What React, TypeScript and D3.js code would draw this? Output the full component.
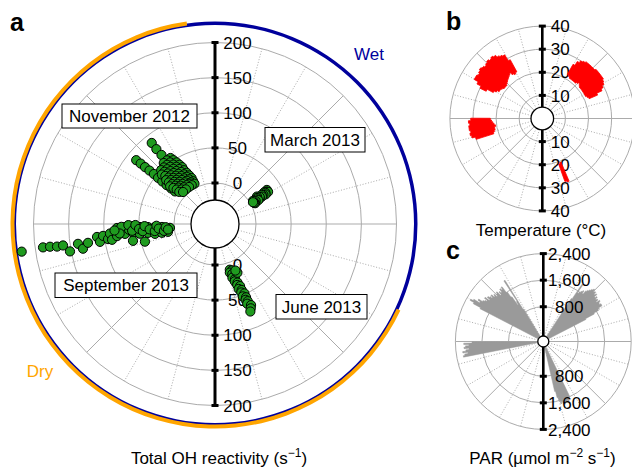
import React from 'react';
import * as d3 from 'd3';

type P2 = [number, number];
type P3 = [number, number, number];

const FONT = "'Liberation Sans', Arial, Helvetica, sans-serif";

// ---------- tick values ----------
const ohTicks = [0, 50, 100, 150, 200];
const tempTicks = [10, 20, 30, 40];
const parTicks = [800, 1600, 2400];
const parTickLabels = ['800', '1,600', '2,400'];

// ---------- panel a: total OH reactivity [day of year, s^-1] ----------
const ohNov: P2[] = [
  [326.5, 88], [326.4, 77], [326.7, 66],
  [313.3, 86], [313.4, 78], [313.4, 70], [313.5, 62], [313.6, 54], [313.3, 46], [313.2, 38], [313.1, 30], [313.3, 22], [313.5, 15],
  [330.5, 55], [327.5, 55], [324.4, 55],
  [331.5, 50], [328.5, 50], [325.5, 50], [322.4, 50], [319.4, 50],
  [332.6, 45], [329.5, 45], [326.5, 45], [323.4, 45], [320.4, 45], [317.3, 45],
  [333.6, 40], [330.5, 40], [327.5, 40], [324.4, 40], [321.4, 40], [318.4, 40],
  [334.6, 35], [331.5, 35], [328.5, 35], [325.5, 35], [322.4, 35], [319.4, 35], [316.3, 35],
  [334.6, 30], [331.5, 30], [328.5, 30], [325.5, 30], [322.4, 30], [319.4, 30], [316.3, 30],
  [335.6, 25], [332.6, 25], [329.5, 25], [326.5, 25], [323.4, 25], [320.4, 25], [317.3, 25], [314.3, 25],
  [336.6, 20], [333.6, 20], [330.5, 20], [327.5, 20], [324.4, 20], [321.4, 20], [318.4, 20], [315.3, 20],
  [337.6, 15], [334.6, 15], [331.5, 15], [328.5, 15], [325.5, 15], [322.4, 15], [319.4, 15], [316.3, 15],
  [337.6, 10], [334.6, 10], [331.5, 10], [328.5, 10], [324.4, 10], [320.4, 10], [316.3, 10],
  [337.6, 6], [333.6, 6], [329.5, 6], [324.4, 6], [319.4, 6],
];
const ohMar: P2[] = [
  [57.5, 30], [58.5, 28], [59.6, 30], [58, 25], [59, 26], [60.5, 25], [59.8, 22], [58.8, 20], [60.5, 19],
  [61, 15], [59.6, 16], [57.6, 13], [59, 12], [60.5, 11], [62, 12], [61.5, 8], [63.5, 6], [62.5, 5], [59.5, 5], [61, 4],
];
const ohSep: P2[] = [
  [265.5, 219.6], [265.9, 188.7], [265.8, 178.7], [265.5, 168.8], [265.6, 160.1], [262.9, 151.7], [265.4, 138.7],
  [263, 132.8], [265.2, 124.4], [267.4, 110.6], [264.8, 107.3], [267.6, 101.9], [265.6, 95.4], [268.5, 91.8], [264.9, 89.9],
  [271.4, 81.2], [266.6, 82.1], [269.6, 75.8], [271.8, 69.8], [267.4, 70.5], [269.9, 64.3], [272.3, 58.4], [267.4, 59],
  [262, 60.8], [269.5, 52.9], [271.4, 48.5], [266.3, 49.4], [259.4, 44.5], [269.1, 43.1], [271.1, 37.1], [266.1, 37.8],
  [268.5, 31.7], [270.8, 27.2], [264.3, 28.2], [267.7, 20.4], [270.5, 17.2], [264.2, 18.2], [268.8, 6], [264.2, 9.5],
  [272, 75], [268, 78], [270, 85], [273, 65], [269, 60], [273, 55], [270, 50], [268, 45], [272, 42], [269, 35],
  [267, 28], [272, 25], [269, 22], [266, 15], [270, 12], [267, 9],
];
const ohJun: P2[] = [
  [164.3, 10], [162.2, 12], [165.3, 14], [163.2, 17], [161.2, 20], [164.3, 22], [162.2, 25], [163.2, 28], [161.2, 31],
  [162.2, 34], [160.2, 37], [162.2, 40], [160.2, 43], [161.2, 46], [159.2, 49], [161.2, 52], [159.2, 55], [160.2, 58],
  [159.2, 61], [160.2, 64], [158.2, 68], [159.2, 72], [160.2, 76], [157.5, 18], [158.5, 14],
];

// ---------- panel b: temperature [day, min degC, max degC] ----------
const tempNov: P3[] = [
  [301, 27, 30], [303, 24, 32], [305, 23, 34], [307, 22, 34], [309, 22, 33.5], [311, 21.5, 34], [313, 21, 34.5],
  [315, 21, 34], [317, 21, 33.5], [319, 21.5, 34], [321, 22, 34.5], [323, 22.5, 34], [325, 23, 34.5], [327, 23.5, 34],
  [329, 24, 33], [331, 23, 32.5], [333, 22.5, 32], [335, 23, 29],
];
const tempMar: P3[] = [
  [31, 22, 27], [33, 21.5, 29], [35, 21, 30], [37, 21, 30.5], [39, 21, 31], [41, 21, 31], [43, 21, 31], [45, 21.5, 31],
  [47, 22, 31], [49, 21.5, 31.5], [51, 21, 31.5], [53, 21, 31.5], [55, 21, 31.5], [57, 21, 31.5], [59, 21, 31],
  [61, 21, 30.5], [63, 21, 29.5], [65, 21.5, 28.5], [67, 22, 26],
];
const tempSep: P3[] = [
  [257, 22, 30], [259, 21.5, 31.5], [261, 21, 32], [263, 21, 31.5], [265, 20.5, 32], [267, 21, 32], [269, 21.5, 31.5],
  [271, 22, 32], [273, 22.5, 31],
];
const tempJun: P3[] = [[160, 20.5, 29.5], [161.5, 21, 29]];

// ---------- panel c: PAR [day, umol m-2 s-1] ----------
const parNov: P2[] = [
  [302, 1900], [303, 2150], [304, 2280], [305, 2200], [306, 2000], [307, 2080], [308, 1950], [309, 1900], [310, 1850],
  [311, 1950], [312, 1800], [313, 1900], [314, 1850], [315, 1780], [316, 1850], [317, 1750], [318, 1800], [319, 1700],
  [320, 1760], [321, 1800], [322, 1650], [323, 1750], [324, 1700], [325, 1800], [326, 1750], [327, 1820], [328, 1600],
  [329, 1400], [330, 1100], [331, 1200], [332, 1930], [333, 900],
];
const parMar: P2[] = [
  [34, 1300], [35, 1837], [36, 1550], [37, 1600], [38, 1650], [39, 1700], [40, 1620], [41, 1750], [42, 1800],
  [43, 1850], [44, 1900], [45, 1950], [46, 1880], [47, 1920], [48, 1850], [49, 1900], [50, 1800], [51, 1850],
  [52, 1780], [53, 1820], [54, 1750], [55, 1850], [56, 1800], [57, 1780], [58, 1830], [59, 1820], [60, 1700],
  [61, 1660], [62, 1500], [63, 1200],
];
const parSep: P2[] = [
  [263, 2200], [264, 2150], [265, 2050], [266, 2200], [267, 2100], [268, 2000], [269, 2150], [270, 2100],
  [271, 2000], [272, 2150], [273, 1900],
];
const parJun: P2[] = [
  [157, 1600], [158, 1650], [159, 1700], [160, 1680], [161, 1720], [162, 1700], [163, 1750], [164, 1700],
  [165, 1650], [166, 1700], [167, 1600], [168, 1500], [169, 1300],
];

// season arcs (day of year)
const wetSeason: P2[] = [[0, 365]];
const drySeason: P2[] = [[116.6, 356.9]];

// ---------- scales ----------
const angle = d3.scaleLinear().domain([0, 365]).range([0, 2 * Math.PI]);

const A = { cx: 215, cy: 224, inner: 24 };
const rA = d3.scaleLinear().domain([0, 200]).range([41, 181.5]);
const B = { cx: 542.3, cy: 118.5, inner: 11.3 };
const rB = d3.scaleLinear().domain([0, 40]).range([0, 92.4]);
const C = { cx: 543.3, cy: 341.5, inner: 5.5 };
const rC = d3.scaleLinear().domain([0, 2400]).range([8.2, 87.9]);

const GRID = '#ababab';

function pol(cx: number, cy: number, r: number, a: number): P2 {
  return [cx + r * Math.sin(a), cy - r * Math.cos(a)];
}

// radial outline helpers (points are [angle rad, radius px])
const radialLine = d3.lineRadial<P2>().angle((d) => d[0]).radius((d) => d[1]);

function fanPath(set: P2[]): string {
  const pts: P2[] = [[angle(set[0][0] - 0.5), 0]];
  set.forEach((d) => {
    pts.push([angle(d[0] - 0.5), rC(d[1])]);
    pts.push([angle(d[0] + 0.5), rC(d[1])]);
  });
  pts.push([angle(set[set.length - 1][0] + 0.5), 0]);
  return (radialLine(pts) as string) + 'Z';
}

function blobPath(set: P3[]): string {
  const outer: P2[] = [];
  const inner: P2[] = [];
  set.forEach((d) => {
    outer.push([angle(d[0] - 1), rB(d[2])]);
    outer.push([angle(d[0] + 1), rB(d[2])]);
    inner.push([angle(d[0] - 1), rB(d[1])]);
    inner.push([angle(d[0] + 1), rB(d[1])]);
  });
  return (radialLine(outer.concat(inner.reverse())) as string) + 'Z';
}

function Grid({ cx, cy, r0, r1, rings }: { cx: number; cy: number; r0: number; r1: number; rings: number[] }) {
  const spokes = d3.range(0, 360, 15);
  return (
    <g>
      {spokes.map((deg) => {
        const a = (deg * Math.PI) / 180;
        const [x0, y0] = pol(cx, cy, r0, a);
        const [x1, y1] = pol(cx, cy, r1, a);
        const solid = deg % 45 === 0;
        return (
          <line key={deg} x1={x0} y1={y0} x2={x1} y2={y1} stroke={solid ? GRID : '#a0a0a0'}
            strokeWidth={solid ? 1 : 0.9} strokeDasharray={solid ? undefined : '1 1.8'} />
        );
      })}
      {rings.map((r, i) => (
        <circle key={i} cx={cx} cy={cy} r={r} fill="none" stroke={GRID} strokeWidth={1} />
      ))}
    </g>
  );
}

function Axis({ cx, cy, r0, r1, ticks, labels, scale, labelDx, lw }: any) {
  return (
    <g>
      <line x1={cx} x2={cx} y1={cy - r1} y2={cy - r0} stroke="#000" strokeWidth={lw} />
      <line x1={cx} x2={cx} y1={cy + r0} y2={cy + r1} stroke="#000" strokeWidth={lw} />
      {ticks.map((t: number, i: number) => (
        <g key={i}>
          <rect x={cx - 3.5} y={cy - scale(t) - 1.5} width={7} height={3} fill="#000" />
          <rect x={cx - 3.5} y={cy + scale(t) - 1.5} width={7} height={3} fill="#000" />
          <text x={cx + labelDx} y={cy - scale(t)} dy="0.36em" textAnchor="middle" fontSize={17} fontFamily={FONT}>{labels[i]}</text>
          <text x={cx + labelDx} y={cy + scale(t)} dy="0.36em" textAnchor="middle" fontSize={17} fontFamily={FONT}>{labels[i]}</text>
        </g>
      ))}
    </g>
  );
}

function LabelBox({ x, y, w, h, text }: { x: number; y: number; w: number; h: number; text: string }) {
  return (
    <g>
      <rect x={x} y={y} width={w} height={h} fill="#fff" stroke="#000" strokeWidth={1} />
      <text x={x + w / 2} y={y + h / 2} dy="0.36em" textAnchor="middle" fontSize={17} fontFamily={FONT}>{text}</text>
    </g>
  );
}

export default function App() {
  const ringArc = d3.arc<any>();
  const ohAll = [ohNov, ohMar, ohSep, ohJun];
  const tempAll = [tempNov, tempMar, tempSep, tempJun];
  const parAll = [parNov, parMar, parSep, parJun];

  return (
    <svg width={632} height={467} style={{ position: 'absolute', left: 0, top: 0, background: '#fff' }} fontFamily={FONT}>
      {/* ---------------- panel a ---------------- */}
      <Grid cx={A.cx} cy={A.cy} r0={A.inner} r1={rA(200)} rings={ohTicks.map((t) => rA(t))} />
      <g transform={`translate(${A.cx},${A.cy})`}>
        {wetSeason.map((s, i) => (
          <path key={'w' + i} fill="#00009c"
            d={ringArc({ innerRadius: 199, outerRadius: 202.5, startAngle: angle(s[0]), endAngle: angle(s[1]) }) as string} />
        ))}
        {drySeason.map((s, i) => (
          <path key={'d' + i} fill="#ffa500"
            d={ringArc({ innerRadius: 200.5, outerRadius: 204.5, startAngle: angle(s[0]), endAngle: angle(s[1]) }) as string} />
        ))}
      </g>
      <LabelBox x={62} y={104} w={135} h={24} text="November 2012" />
      <LabelBox x={265} y={127.5} w={100} h={24.5} text="March 2013" />
      <LabelBox x={55} y={273} w={142} h={24.5} text="September 2013" />
      <LabelBox x={276} y={294.5} w={91} h={24.5} text="June 2013" />
      <Axis cx={A.cx} cy={A.cy} r0={A.inner} r1={rA(200)} ticks={ohTicks} labels={ohTicks.map(String)} scale={rA} labelDx={22.5} lw={3} />
      <circle cx={A.cx} cy={A.cy} r={A.inner} fill="#fff" stroke="#000" strokeWidth={1.3} />
      {ohAll.map((set, k) => (
        <g key={k}>
          {set.map((d, i) => {
            const [x, y] = pol(A.cx, A.cy, rA(d[1]), angle(d[0]));
            return <circle key={i} cx={x} cy={y} r={4.6} fill="#1f9b1f" stroke="#000" strokeWidth={1} />;
          })}
        </g>
      ))}
      <text x={369} y={60} textAnchor="middle" fontSize={17} fill="#00009c">Wet</text>
      <text x={40} y={377} textAnchor="middle" fontSize={17} fill="#ffa500">Dry</text>
      <text x={10} y={30.5} fontSize={25} fontWeight="bold">a</text>
      <text x={219} y={464} textAnchor="middle" fontSize={17}>
        Total OH reactivity (s<tspan dy={-7} fontSize={12}>−1</tspan><tspan dy={7}>)</tspan>
      </text>

      {/* ---------------- panel b ---------------- */}
      <Grid cx={B.cx} cy={B.cy} r0={B.inner} r1={rB(40)} rings={tempTicks.map((t) => rB(t))} />
      <Axis cx={B.cx} cy={B.cy} r0={B.inner} r1={rB(40)} ticks={tempTicks} labels={tempTicks.map(String)} scale={rB} labelDx={18} lw={2.6} />
      <circle cx={B.cx} cy={B.cy} r={B.inner} fill="#fff" stroke="#000" strokeWidth={1.3} />
      <g transform={`translate(${B.cx},${B.cy})`}>
        {tempAll.map((set, k) => (
          <path key={k} fill="#ff0000" stroke="#ff0000" strokeWidth={0.8} strokeLinejoin="round" d={blobPath(set)} />
        ))}
      </g>
      <text x={446} y={30} fontSize={25} fontWeight="bold">b</text>
      <text x={541} y={236} textAnchor="middle" fontSize={17}>Temperature (°C)</text>

      {/* ---------------- panel c ---------------- */}
      <Grid cx={C.cx} cy={C.cy} r0={C.inner} r1={rC(2400)} rings={parTicks.map((t) => rC(t))} />
      <g transform={`translate(${C.cx},${C.cy})`}>
        {parAll.map((set, k) => (
          <path key={k} fill="#9a9a9a" stroke="#9a9a9a" strokeWidth={0.5} d={fanPath(set)} />
        ))}
      </g>
      <Axis cx={C.cx} cy={C.cy} r0={C.inner} r1={rC(2400)} ticks={parTicks} labels={parTickLabels} scale={rC} labelDx={26} lw={2.6} />
      <circle cx={C.cx} cy={C.cy} r={C.inner} fill="#fff" stroke="#000" strokeWidth={1.3} />
      <text x={446} y={258.5} fontSize={25} fontWeight="bold">c</text>
      <text x={542.5} y={464} textAnchor="middle" fontSize={17}>
        PAR (µmol m<tspan dy={-7} fontSize={12}>−2</tspan><tspan dy={7}> s</tspan><tspan dy={-7} fontSize={12}>−1</tspan><tspan dy={7}>)</tspan>
      </text>
    </svg>
  );
}
